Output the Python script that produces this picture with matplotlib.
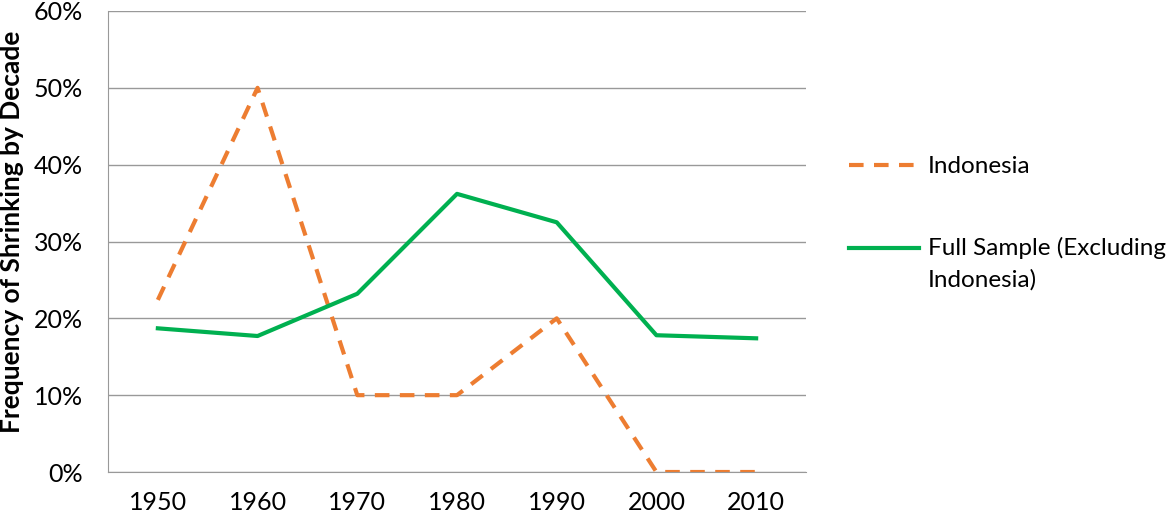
import numpy as np
import matplotlib.pyplot as plt
from matplotlib.ticker import PercentFormatter
from matplotlib.legend_handler import HandlerLine2D

plt.rcParams['font.family'] = ['Lato', 'DejaVu Sans']

decades = ['1950', '1960', '1970', '1980', '1990', '2000', '2010']
indonesia = [22.4, 50.0, 10.0, 10.0, 20.0, 0.0, 0.0]
full_sample = [18.7, 17.7, 23.2, 36.2, 32.5, 17.8, 17.4]


class TopLineHandler(HandlerLine2D):
    """legend line lifted to sit next to the first line of a 2-line label"""
    def __init__(self, offset=0, **kw):
        super().__init__(**kw)
        self.offset = offset

    def create_artists(self, legend, orig_handle, xdescent, ydescent,
                       width, height, fontsize, trans):
        arts = super().create_artists(legend, orig_handle, xdescent, ydescent,
                                      width, height, fontsize, trans)
        for a in arts:
            a.set_ydata(np.asarray(a.get_ydata()) + self.offset)
        return arts


fig = plt.figure(figsize=(11.75, 5.18), dpi=100)
ax = fig.add_axes([108/1175, 1-472/518, (806-108)/1175, (472-11)/518])

x = np.arange(len(decades))
l1, = ax.plot(x, indonesia, color='#ED7D31', lw=3, ls=(0, (3.5, 2.5)), label='Indonesia')
l2, = ax.plot(x, full_sample, color='#00B050', lw=3, label='Full Sample (Excluding\nIndonesia)')

ax.set_xlim(-0.5, 6.5)
ax.set_ylim(0, 60)
ax.set_yticks(np.arange(0, 61, 10))
ax.yaxis.set_major_formatter(PercentFormatter(decimals=0))
ax.set_xticks(x)
ax.set_xticklabels(decades)
ax.grid(axis='y', color='#999999', lw=1)
ax.set_axisbelow(True)
for s in ['top', 'right']:
    ax.spines[s].set_visible(False)
for s in ['left', 'bottom']:
    ax.spines[s].set_color('#999999')
ax.tick_params(length=0, labelsize=18, colors='black')
ax.tick_params(axis='x', pad=14)
ax.tick_params(axis='y', pad=18)
ax.set_ylabel('Frequency of Shrinking by Decade', fontsize=19, fontweight='bold')
ax.yaxis.set_label_coords(-0.12, 0.521)

leg = fig.legend(handles=[l1, l2], loc='upper left', bbox_to_anchor=(849/1175, 1-156/518),
                 frameon=False, fontsize=17.5, handlelength=2.9, labelspacing=2.45,
                 handletextpad=0.33, borderpad=0, borderaxespad=0,
                 handler_map={l2: TopLineHandler(offset=11.5)})
for t in leg.get_texts():
    t.set_linespacing(1.6)

fig.savefig('out.png', dpi=100)
